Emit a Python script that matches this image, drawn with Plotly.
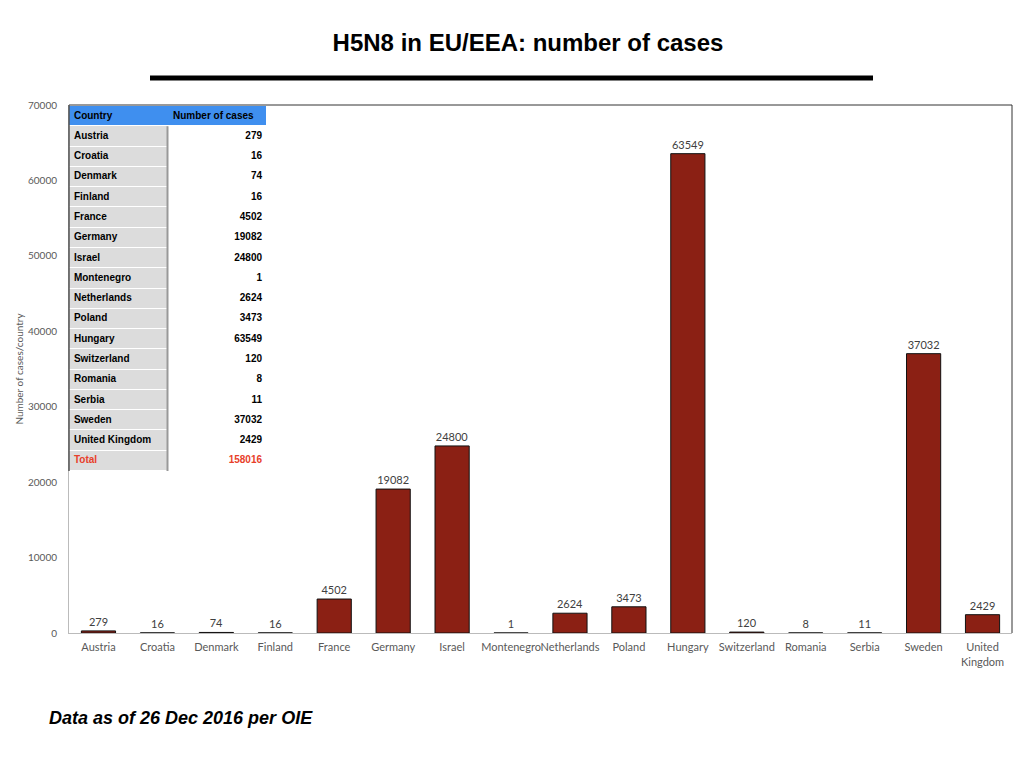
import plotly.graph_objects as go

countries = ['Austria', 'Croatia', 'Denmark', 'Finland', 'France', 'Germany', 'Israel',
             'Montenegro', 'Netherlands', 'Poland', 'Hungary', 'Switzerland', 'Romania',
             'Serbia', 'Sweden', 'United Kingdom']
cases = [279, 16, 74, 16, 4502, 19082, 24800, 1, 2624, 3473, 63549, 120, 8, 11, 37032, 2429]
total_cases = 158016
header = ['Country', 'Number of cases']

x_labels = [c.replace('United Kingdom', 'United<br>Kingdom') for c in countries]

# страница в браузере сдвинута на 8 px (отступ body)
OFF = 8
W, H = 1024 - OFF, 768 - OFF
L, T = 69 - OFF, 105 - OFF
R = W - (1012 - OFF)
B = H - (633 - OFF)
pw, ph = W - L - R, H - T - B


def px(xs):
    return (xs - OFF - L) / pw


def py(ys):
    return (H - B - (ys - OFF)) / ph


fig = go.Figure()

fig.add_trace(go.Bar(
    x=x_labels,
    y=cases,
    text=cases,
    textposition='outside',
    textfont=dict(family='Lato', size=11, color='#404040'),
    cliponaxis=False,
    marker_color='#8B2014',
    marker_line_color='#111111',
    marker_line_width=1,
    width=0.58,
    showlegend=False,
    hoverinfo='x+y',
))

# таблица: ячейки как heatmap на отдельных осях, текст - scatter
rows_names = [header[0]] + countries + ['Total']
rows_values = [header[1]] + [str(v) for v in cases] + [str(total_cases)]
n_rows = len(rows_names)
row_idx = list(range(n_rows))
z = [[0, 0]] + [[1, 2] for _ in range(n_rows - 1)]
txt_colors = ['#000000'] * (n_rows - 1) + ['#E8402A']

fig.add_trace(go.Heatmap(
    x=[0.5, 1.5], y=row_idx, z=z,
    xaxis='x2', yaxis='y2',
    zmin=0, zmax=2,
    colorscale=[[0, '#3F8FEF'], [0.5, '#DCDCDC'], [1, '#FFFFFF']],
    showscale=False, ygap=1, hoverinfo='skip',
))
fig.add_trace(go.Scatter(
    x=[0.05] * n_rows, y=row_idx,
    text=['<b>' + s + '</b>' for s in rows_names],
    mode='text', textposition='middle right',
    textfont=dict(family='Liberation Sans', size=10, color=txt_colors),
    xaxis='x2', yaxis='y2', showlegend=False, hoverinfo='skip',
))
fig.add_trace(go.Scatter(
    x=[1.056], y=[0],
    text=['<b>' + rows_values[0] + '</b>'],
    mode='text', textposition='middle right',
    textfont=dict(family='Liberation Sans', size=10, color='#000000'),
    xaxis='x2', yaxis='y2', showlegend=False, hoverinfo='skip',
))
fig.add_trace(go.Scatter(
    x=[1.96] * (n_rows - 1), y=row_idx[1:],
    text=['<b>' + s + '</b>' for s in rows_values[1:]],
    mode='text', textposition='middle left',
    textfont=dict(family='Liberation Sans', size=10, color=txt_colors[1:]),
    xaxis='x2', yaxis='y2', showlegend=False, hoverinfo='skip',
))

fig.update_layout(
    width=W, height=H,
    margin=dict(l=L, r=R, t=T, b=B),
    plot_bgcolor='white',
    paper_bgcolor='white',
    title=dict(
        text='<b>H5N8 in EU/EEA: number of cases</b>',
        x=(528 - OFF) / W, xref='container', xanchor='center',
        y=1 - (43 - OFF) / H, yref='container', yanchor='middle',
        font=dict(family='Liberation Sans', size=24, color='#000000'),
    ),
    xaxis=dict(
        showline=True, linecolor='#BBBBBB', linewidth=1,
        tickfont=dict(family='Lato', size=11, color='#595959'),
        ticks='', ticklabelstandoff=4, tickangle=0, automargin=False,
    ),
    yaxis=dict(
        range=[0, 70000], dtick=10000, tickformat='d',
        showgrid=False, zeroline=False,
        showline=True, linecolor='#BBBBBB', linewidth=1,
        tickfont=dict(family='Lato', size=10, color='#595959'),
        ticks='', ticklabelstandoff=9, automargin=False,
        title=dict(text='Number of cases/country', standoff=2,
                   font=dict(family='Lato', size=10, color='#595959')),
    ),
    xaxis2=dict(domain=[0, px(266)], range=[0, 2], anchor='y2', visible=False,
                fixedrange=True, automargin=False),
    yaxis2=dict(domain=[py(471), py(106)], range=[n_rows - 0.5, -0.5], anchor='x2',
                visible=False, fixedrange=True, automargin=False),
    shapes=[
        dict(type='line', xref='paper', yref='paper', x0=px(150), x1=px(873),
             y0=py(78), y1=py(78), line=dict(color='black', width=5)),
        dict(type='line', xref='paper', yref='paper', x0=0, x1=1, y0=1, y1=1,
             line=dict(color='#333333', width=1)),
        dict(type='line', xref='paper', yref='paper', x0=1, x1=1, y0=0, y1=1,
             line=dict(color='#333333', width=1)),
        dict(type='line', xref='paper', yref='paper', x0=0, x1=0, y0=py(471), y1=1,
             line=dict(color='#555555', width=1.5)),
        dict(type='line', xref='x2', yref='y2', x0=1, x1=1, y0=0.5, y1=n_rows - 0.5,
             line=dict(color='#999999', width=2)),
    ],
    annotations=[
        dict(text='<b><i>Data as of 26 Dec 2016 per OIE</i></b>', xref='paper', yref='paper',
             x=px(47), y=py(718), xanchor='left', yanchor='middle', showarrow=False,
             font=dict(family='Liberation Sans', size=18, color='#000000')),
    ],
)

fig.write_html('out.html')
